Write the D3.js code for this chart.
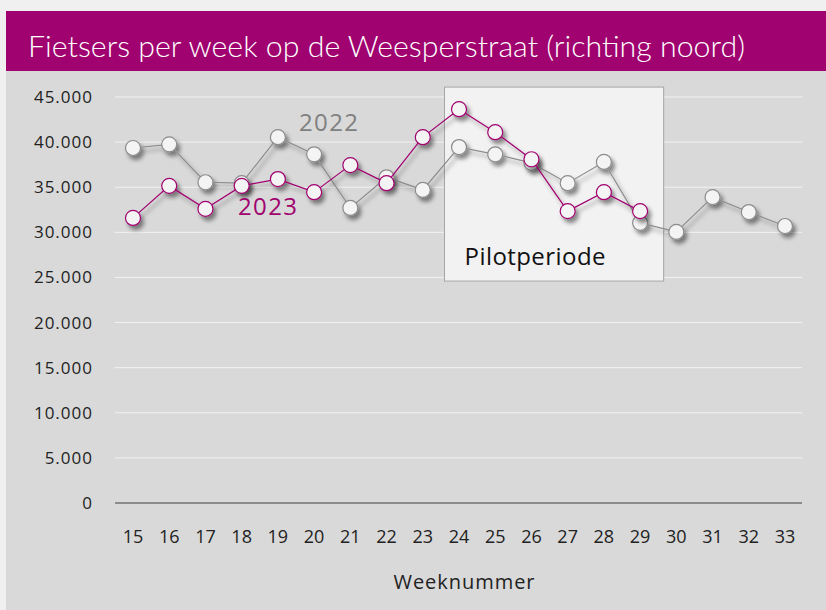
<!DOCTYPE html>
<html>
<head>
<meta charset="utf-8">
<script src="https://cdn.jsdelivr.net/npm/d3@7"></script>
<style>
  body { margin: 0; background: #f0f0f0; }
  svg { display: block; }
</style>
</head>
<body>
<div id="chart"></div>
<script>
// Chart data
const weeks = [15, 16, 17, 18, 19, 20, 21, 22, 23, 24, 25, 26, 27, 28, 29, 30, 31, 32, 33];
const values2022 = [39350, 39750, 35550, 35450, 40550, 38650, 32700, 36100, 34700, 39450, 38650, 37700, 35450, 37800, 31050, 30050, 33900, 32250, 30700];
const values2023 = [31600, 35150, 32600, 35150, 35900, 34450, 37450, 35450, 40550, 43650, 41100, 38100, 32350, 34450, 32350];
const yTicks = [0, 5000, 10000, 15000, 20000, 25000, 30000, 35000, 40000, 45000];
const pilotWeeks = [23.6, 29.65];
const pilotRange = [24600, 46100];

const W = 826, H = 610;
const margin = { top: 97, right: 41, bottom: 107, left: 133 };

const svg = d3.select('#chart').append('svg')
  .attr('width', W)
  .attr('height', H);

const defs = svg.append('defs');
defs.append('filter')
  .attr('id', 'shadow')
  .attr('x', '-20%').attr('y', '-20%')
  .attr('width', '140%').attr('height', '140%')
  .append('feDropShadow')
  .attr('dx', 3).attr('dy', 4)
  .attr('stdDeviation', 2)
  .attr('flood-color', '#000')
  .attr('flood-opacity', 0.45);

// background panels
svg.append('rect').attr('x', 6).attr('y', 71).attr('width', W - 6).attr('height', H - 71).attr('fill', '#d9d9d9');
svg.append('rect').attr('x', 6).attr('y', 11).attr('width', W - 6).attr('height', 60).attr('fill', '#a0036f');

svg.append('text')
  .attr('x', 28)
  .attr('y', 57)
  .attr('fill', '#fff')
  .attr('font-family', 'Lato, sans-serif')
  .attr('font-weight', 300)
  .attr('font-size', '30px')
  .attr('textLength', 717)
  .attr('lengthAdjust', 'spacingAndGlyphs')
  .text('Fietsers per week op de Weesperstraat (richting noord)');

const x = d3.scaleLinear()
  .domain([15, 33])
  .range([margin.left, W - margin.right]);

const y = d3.scaleLinear()
  .domain([0, 45000])
  .range([H - margin.bottom, margin.top]);

const fmt = d => d3.format(',')(d).replace(/,/g, '.');

// gridlines
const grid = svg.append('g');
grid.selectAll('line')
  .data(yTicks.filter(d => d > 0))
  .join('line')
  .attr('x1', 115).attr('x2', 802)
  .attr('y1', d => y(d)).attr('y2', d => y(d))
  .attr('stroke', '#f2f2f2')
  .attr('stroke-width', 1);

// pilot period box
svg.append('rect')
  .attr('x', x(pilotWeeks[0]))
  .attr('y', y(pilotRange[1]))
  .attr('width', x(pilotWeeks[1]) - x(pilotWeeks[0]))
  .attr('height', y(pilotRange[0]) - y(pilotRange[1]))
  .attr('fill', '#f2f2f2')
  .attr('stroke', '#a6a6a6')
  .attr('stroke-width', 1);

svg.append('text')
  .attr('x', x(pilotWeeks[0]) + 20)
  .attr('y', 265)
  .attr('font-family', 'Open Sans, sans-serif')
  .attr('font-size', '24px')
  .attr('textLength', 141)
  .attr('fill', '#111')
  .text('Pilotperiode');

// y axis labels
svg.append('g').selectAll('text')
  .data(yTicks)
  .join('text')
  .attr('x', 93)
  .attr('y', d => y(d))
  .attr('dy', '0.35em')
  .attr('text-anchor', 'end')
  .attr('font-family', 'Open Sans, sans-serif')
  .attr('font-size', '17px')
  .attr('letter-spacing', '1px')
  .attr('fill', '#222')
  .text(d => fmt(d));

// zero axis line
svg.append('line')
  .attr('x1', 115).attr('x2', 802)
  .attr('y1', y(0)).attr('y2', y(0))
  .attr('stroke', '#8c8c8c')
  .attr('stroke-width', 2);

// x axis labels
svg.append('g').selectAll('text')
  .data(weeks)
  .join('text')
  .attr('x', d => x(d))
  .attr('y', 543)
  .attr('text-anchor', 'middle')
  .attr('font-family', 'Open Sans, sans-serif')
  .attr('font-size', '18px')
  .attr('fill', '#222')
  .text(d => d);

svg.append('text')
  .attr('x', 464)
  .attr('y', 589)
  .attr('text-anchor', 'middle')
  .attr('font-family', 'Open Sans, sans-serif')
  .attr('font-size', '20px')
  .attr('textLength', 141)
  .attr('fill', '#222')
  .text('Weeknummer');

const line = d3.line()
  .x(d => x(d.week))
  .y(d => y(d.value));

function drawSeries(values, color) {
  const pts = values.map((v, i) => ({ week: weeks[i], value: v }));
  const g = svg.append('g').attr('filter', 'url(#shadow)');
  g.append('path')
    .datum(pts)
    .attr('d', line)
    .attr('fill', 'none')
    .attr('stroke', color)
    .attr('stroke-width', 1.2);
  g.selectAll('circle')
    .data(pts)
    .join('circle')
    .attr('cx', d => x(d.week))
    .attr('cy', d => y(d.value))
    .attr('r', 7.5)
    .attr('fill', '#f4f4f4')
    .attr('stroke', color)
    .attr('stroke-width', 1.2);
}

drawSeries(values2022, '#8c8c8c');
drawSeries(values2023, '#a0036f');

// series labels
svg.append('text')
  .attr('x', 299)
  .attr('y', 131)
  .attr('font-family', 'Open Sans, sans-serif')
  .attr('font-size', '24px')
  .attr('textLength', 59)
  .attr('fill', '#808080')
  .text('2022');

svg.append('text')
  .attr('x', 238)
  .attr('y', 215)
  .attr('font-family', 'Open Sans, sans-serif')
  .attr('font-size', '24px')
  .attr('textLength', 59)
  .attr('fill', '#a0036f')
  .text('2023');
</script>
</body>
</html>
